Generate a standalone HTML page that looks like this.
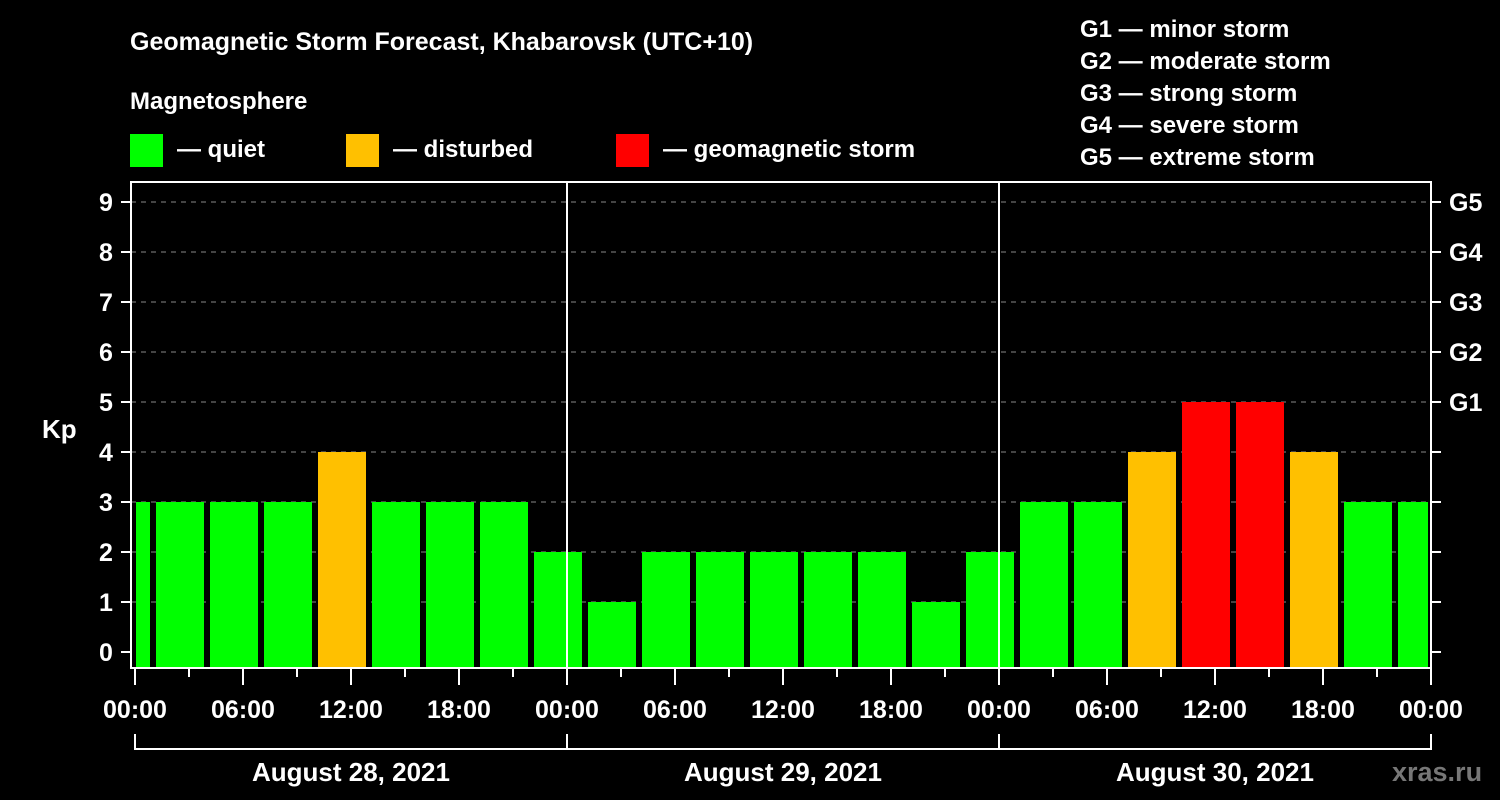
<!DOCTYPE html>
<html><head><meta charset="utf-8"><style>
body{margin:0;background:#000;}
svg{display:block;font-family:"Liberation Sans",Arial,sans-serif;font-weight:bold;}
</style></head><body>
<svg id="chart" width="1500" height="800" viewBox="0 0 1500 800">
<rect width="1500" height="800" fill="#000"/>
<text x="130" y="50" fill="#fff" font-size="25">Geomagnetic Storm Forecast, Khabarovsk (UTC+10)</text>
<text x="130" y="109" fill="#fff" font-size="24">Magnetosphere</text>
<g><rect x="130" y="134" width="33" height="33" fill="#00ff00"/><text x="177" y="157" fill="#fff" font-size="24">— quiet</text></g>
<g><rect x="346" y="134" width="33" height="33" fill="#ffc000"/><text x="393" y="157" fill="#fff" font-size="24">— disturbed</text></g>
<g><rect x="616" y="134" width="33" height="33" fill="#ff0000"/><text x="663" y="157" fill="#fff" font-size="24">— geomagnetic storm</text></g>
<g fill="#fff" font-size="24">
<text x="1080" y="37">G1 — minor storm</text>
<text x="1080" y="69">G2 — moderate storm</text>
<text x="1080" y="101">G3 — strong storm</text>
<text x="1080" y="133">G4 — severe storm</text>
<text x="1080" y="165">G5 — extreme storm</text>
</g>
<text x="42" y="438" fill="#fff" font-size="26">Kp</text>
<text x="1392" y="781" fill="#777" font-size="27">xras.ru</text>
<g id="grid"></g><g id="bars"></g><g id="axes"></g>
</svg>
<script>
const kpValues=[3,3,3,3,4,3,3,3,2,1,2,2,2,2,2,1,2,3,3,4,5,5,4,3,3];
const binStartHour=-2; // first 3-hour bin begins 2h before 00:00 local
const dayLabels=["August 28, 2021","August 29, 2021","August 30, 2021"];
const hourLabels=["00:00","06:00","12:00","18:00"];
const yTicks=[0,1,2,3,4,5,6,7,8,9];
const gLabels=["G1","G2","G3","G4","G5"];

const NS="http://www.w3.org/2000/svg";
const X0=135,PXH=18,Y0=652,PXK=50,LEFT=131,RIGHT=1431,TOP=182,BOTTOM=668;
const xs=h=>X0+h*PXH, ys=k=>Y0-k*PXK;
function mk(parent,tag,attrs,text){const e=document.createElementNS(NS,tag);for(const k in attrs)e.setAttribute(k,attrs[k]);if(text!==undefined)e.textContent=text;document.getElementById(parent).appendChild(e);return e;}
const col=v=>v>=5?"#ff0000":(v>=4?"#ffc000":"#00ff00");
const totalH=dayLabels.length*24;

yTicks.forEach(k=>{
  if(k>0){const l=mk("grid","line",{x1:LEFT,x2:RIGHT,y1:ys(k),y2:ys(k),stroke:"#888","stroke-width":1,"stroke-dasharray":"5,5"});
  
  }
  const t=mk("axes","text",{x:106,y:ys(k)+9,fill:"#fff","font-size":25,"text-anchor":"middle"},String(k));
  
  
  mk("axes","line",{x1:LEFT-10,x2:LEFT,y1:ys(k),y2:ys(k),stroke:"#fff","stroke-width":2});
  mk("axes","line",{x1:RIGHT,x2:RIGHT+10,y1:ys(k),y2:ys(k),stroke:"#fff","stroke-width":2});
});
gLabels.forEach((g,i)=>{
  const t=mk("axes","text",{x:1449,y:ys(5+i)+9,fill:"#fff","font-size":25},g);
  
  
});
kpValues.forEach((v,i)=>{
  let h0=binStartHour+3*i,h1=h0+3;
  let x1=Math.max(xs(h0)+3,X0+1),x2=Math.min(xs(h1)-3,xs(totalH)-3);
  const r=mk("bars","rect",{x:x1,y:ys(v),width:x2-x1,height:BOTTOM-1-ys(v),fill:col(v)});
  
  
});
const fr=mk("axes","rect",{x:LEFT,y:TOP,width:RIGHT-LEFT,height:BOTTOM-TOP,fill:"none",stroke:"#fff","stroke-width":2});


for(let d=1;d<dayLabels.length;d++){
  const l=mk("axes","line",{x1:xs(24*d),x2:xs(24*d),y1:TOP,y2:BOTTOM,stroke:"#fff","stroke-width":2});
  
  
}
for(let h=0;h<=totalH;h+=3){
  const major=h%6===0;
  mk("axes","line",{x1:xs(h),x2:xs(h),y1:BOTTOM,y2:BOTTOM+(major?17:9),stroke:"#fff","stroke-width":2});
  if(major){const t=mk("axes","text",{x:xs(h),y:718,fill:"#fff","font-size":25,"text-anchor":"middle"},hourLabels[(h%24)/6]);
  
  }
}
mk("axes","line",{x1:xs(0),x2:xs(totalH),y1:749,y2:749,stroke:"#fff","stroke-width":2});
for(let d=0;d<=dayLabels.length;d++) mk("axes","line",{x1:xs(24*d),x2:xs(24*d),y1:734,y2:750,stroke:"#fff","stroke-width":2});
dayLabels.forEach((s,d)=>{
  const t=mk("axes","text",{x:xs(24*d+12),y:781,fill:"#fff","font-size":26,"text-anchor":"middle"},s);
  
  
});
</script>
</body></html>
